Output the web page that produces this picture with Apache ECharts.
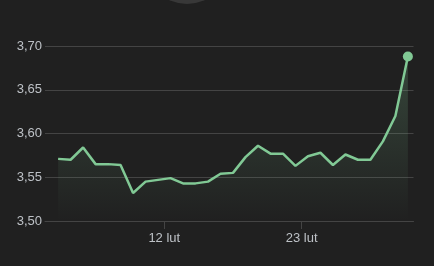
<!DOCTYPE html>
<html>
<head>
<meta charset="utf-8">
<script src="https://cdn.jsdelivr.net/npm/echarts@6/dist/echarts.min.js"></script>
<style>
html,body{margin:0;padding:0;background:#202020;}
#c{width:434px;height:266px;}
</style>
</head>
<body>
<div id="c"></div>
<script>
// day positions (day of February, points at midday)
const days = [3.5, 4.5, 5.5, 6.5, 7.5, 8.5, 9.5, 10.5, 11.5, 12.5, 13.5, 14.5, 15.5, 16.5, 17.5,
  18.5, 19.5, 20.5, 21.5, 22.5, 23.5, 24.5, 25.5, 26.5, 27.5, 28.5, 29.5, 30.5, 31.5];
const values = [3.571, 3.570, 3.584, 3.565, 3.565, 3.564, 3.532, 3.545, 3.547, 3.549,
  3.543, 3.543, 3.545, 3.554, 3.555, 3.573, 3.586, 3.577, 3.577, 3.563,
  3.574, 3.578, 3.564, 3.576, 3.570, 3.570, 3.591, 3.620, 3.688];
const xTickValues = [12, 23];
const xTickLabels = ['12 lut', '23 lut'];
const yTicks = [3.50, 3.55, 3.60, 3.65, 3.70];

const chart = echarts.init(document.getElementById('c'), null, {renderer: 'canvas'});
const data = days.map((d, i) => [d, values[i]]);
const last = data.length - 1;
const font = 'Arial, "Liberation Sans", sans-serif';

chart.setOption({
  backgroundColor: '#202020',
  animation: false,
  graphic: [{
    type: 'circle', shape: {cx: 187, cy: -38, r: 42},
    style: {fill: '#383838'}, silent: true
  }],
  grid: {left: 45, right: 20.5, top: 46, bottom: 45},
  xAxis: {
    type: 'value', min: 2.45, max: 31.95,
    splitLine: {show: false},
    axisLine: {show: true, lineStyle: {color: '#444', width: 1}},
    axisTick: {show: true, customValues: xTickValues, length: 8, lineStyle: {color: '#444'}},
    axisLabel: {
      customValues: xTickValues, margin: 11, color: '#bdc1c6', fontSize: 13, fontFamily: font,
      formatter: v => xTickLabels[xTickValues.indexOf(v)] || ''
    }
  },
  yAxis: {
    type: 'value', min: yTicks[0], max: yTicks[yTicks.length - 1], interval: 0.05,
    axisLine: {show: false}, axisTick: {show: false},
    splitLine: {lineStyle: {color: '#444', width: 1}},
    axisLabel: {
      margin: 3, color: '#bdc1c6', fontSize: 13, fontFamily: font,
      formatter: v => v.toFixed(2).replace('.', ',')
    }
  },
  series: [{
    type: 'line', data: data,
    symbol: 'circle', showSymbol: true, showAllSymbol: true,
    symbolSize: (v, p) => p.dataIndex === last ? 10 : 0,
    itemStyle: {color: '#81c995'},
    lineStyle: {color: '#81c995', width: 2.5},
    areaStyle: {
      color: new echarts.graphic.LinearGradient(0, 0, 0, 1, [
        {offset: 0, color: 'rgba(129,201,149,0.32)'},
        {offset: 1, color: 'rgba(129,201,149,0)'}
      ])
    }
  }]
});
</script>
</body>
</html>
